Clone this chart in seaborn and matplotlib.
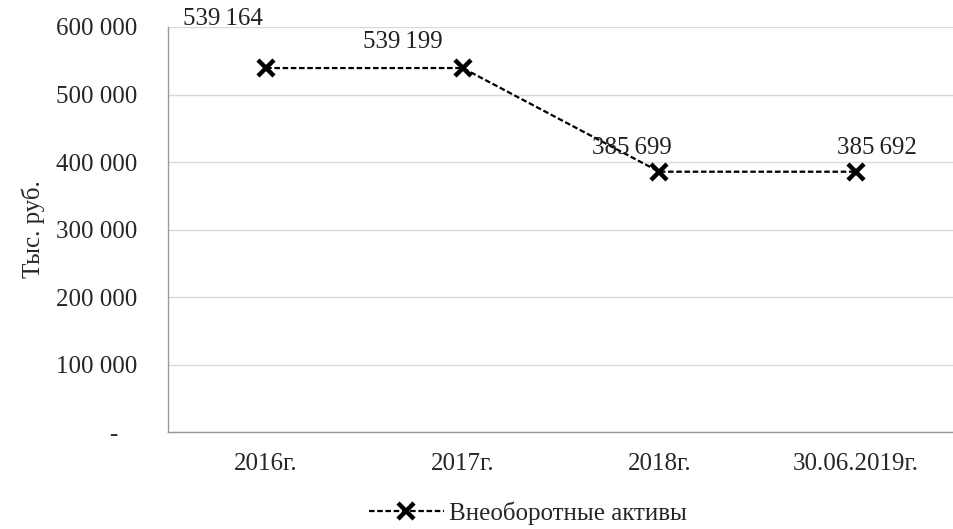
import numpy as np
import pandas as pd
import matplotlib
matplotlib.use('Agg')
import matplotlib.pyplot as plt
import seaborn as sns
from matplotlib.ticker import FuncFormatter, FixedLocator
from matplotlib.lines import Line2D

periods = ['2016г.', '2017г.', '2018г.', '30.06.2019г.']
values = [539164, 539199, 385699, 385692]
series_name = 'Внеоборотные активы'

sns.set_style('white')
plt.rcParams['font.family'] = ['Liberation Serif', 'DejaVu Serif']
FS = 18

df = pd.DataFrame({'pos': np.arange(len(periods)), 'value': values})

fig = plt.figure(figsize=(9.54, 5.29), dpi=100)
ax = fig.add_axes([0.176, 0.183, 0.824, 0.766])

dash = (0, (2.5, 1.2))
sns.lineplot(data=df, x='pos', y='value', ax=ax, color='black',
             linestyle=dash, linewidth=1.6, marker='x',
             markersize=11, markeredgewidth=3.2, markeredgecolor='black')

# value labels (offsets in points, as placed in the source)
label_offsets = [(-31, 35), (-43, 19), (-20, 17), (15, 17)]
for i, (v, off) in enumerate(zip(values, label_offsets)):
    txt = f'{v:,}'.replace(',', '\u2009')
    ax.annotate(txt, (i, v), xytext=off, textcoords='offset points',
                ha='center', va='center', fontsize=FS, color='#222222')

ax.set_xlim(-0.5, len(periods) - 0.5)
ax.set_ylim(0, 600000)
ax.set_xticks(np.arange(len(periods)))
ax.set_xticklabels(periods, fontsize=FS)
ax.xaxis.set_minor_locator(FixedLocator(np.arange(-0.5, len(periods), 1.0)))
ax.tick_params(axis='x', which='major', length=0, pad=15)
ax.tick_params(axis='x', which='minor', length=6, color='#999999', width=1, direction='out')
ax.set_yticks(np.arange(0, 600001, 100000))
ax.yaxis.set_major_formatter(FuncFormatter(
    lambda v, p: '-   ' if v == 0 else f'{int(v):,}'.replace(',', ' ')))
ax.tick_params(axis='y', length=8, color='#999999', width=1, direction='out',
               labelsize=FS, pad=14)
ax.grid(axis='y', color='#d9d9d9', linewidth=1)
ax.set_axisbelow(True)
for s in ['top', 'right']:
    ax.spines[s].set_visible(False)
for s in ['left', 'bottom']:
    ax.spines[s].set_color('#999999')
    ax.spines[s].set_linewidth(1)

ax.set_xlabel('')
ax.set_ylabel('Тыс. руб.', fontsize=FS, labelpad=8)

handle = Line2D([], [], color='black', linestyle=dash, linewidth=1.6,
                marker='x', markersize=11, markeredgewidth=3.2)
fig.legend([handle], [series_name], loc='center', bbox_to_anchor=(0.553, 0.03),
           frameon=False, fontsize=FS, handlelength=3, handletextpad=0.2,
           borderpad=0.1)

fig.savefig('out.png', dpi=100)
